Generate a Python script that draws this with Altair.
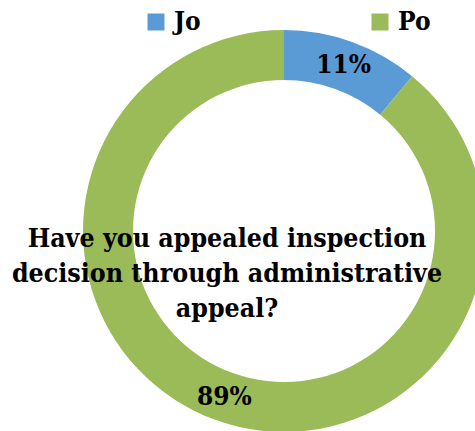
import altair as alt
import pandas as pd

categories = ["Jo", "Po"]
values = [11, 89]
labels = ["11%", "89%"]
colors = ["#5B9BD5", "#9BBB59"]
title_lines = ["Have you appealed inspection", "decision through administrative", "appeal?"]

df = pd.DataFrame({
    "category": categories,
    "value": values,
    "label": labels,
    "idx": list(range(len(categories))),
})

FONT = "DejaVu Serif Condensed"
CX, CY = 284, 231

base = alt.Chart(df).encode(
    theta=alt.Theta("value:Q", stack=True),
    order=alt.Order("idx:Q"),
    x=alt.value(CX),
    y=alt.value(CY),
)

arc = base.mark_arc(outerRadius=201, innerRadius=151).encode(
    color=alt.Color(
        "category:N",
        scale=alt.Scale(domain=categories, range=colors),
        legend=alt.Legend(
            orient="none", legendX=143, legendY=9, direction="horizontal",
            title=None, symbolType="square", symbolSize=289, symbolStrokeWidth=0,
            symbolOpacity=1, labelFont=FONT, labelFontSize=26, labelFontWeight="bold",
            labelColor="black", labelOffset=5, columnPadding=166, padding=0,
        ),
    )
)

pct = base.mark_text(
    radius=176, font=FONT, fontSize=26, fontWeight="bold", color="black"
).encode(text="label:N")

title = alt.Chart(pd.DataFrame({"k": [0]})).mark_text(
    font=FONT, fontSize=26.5, fontWeight="bold", color="black",
    align="center", baseline="alphabetic", lineHeight=35,
).encode(text=alt.value(title_lines), x=alt.value(227), y=alt.value(247))

chart = alt.layer(arc, pct, title).properties(
    width=475, height=431, padding=0, autosize="none"
).configure_view(stroke=None)

chart.save("out.html", embed_options={"renderer": "svg", "actions": False})
